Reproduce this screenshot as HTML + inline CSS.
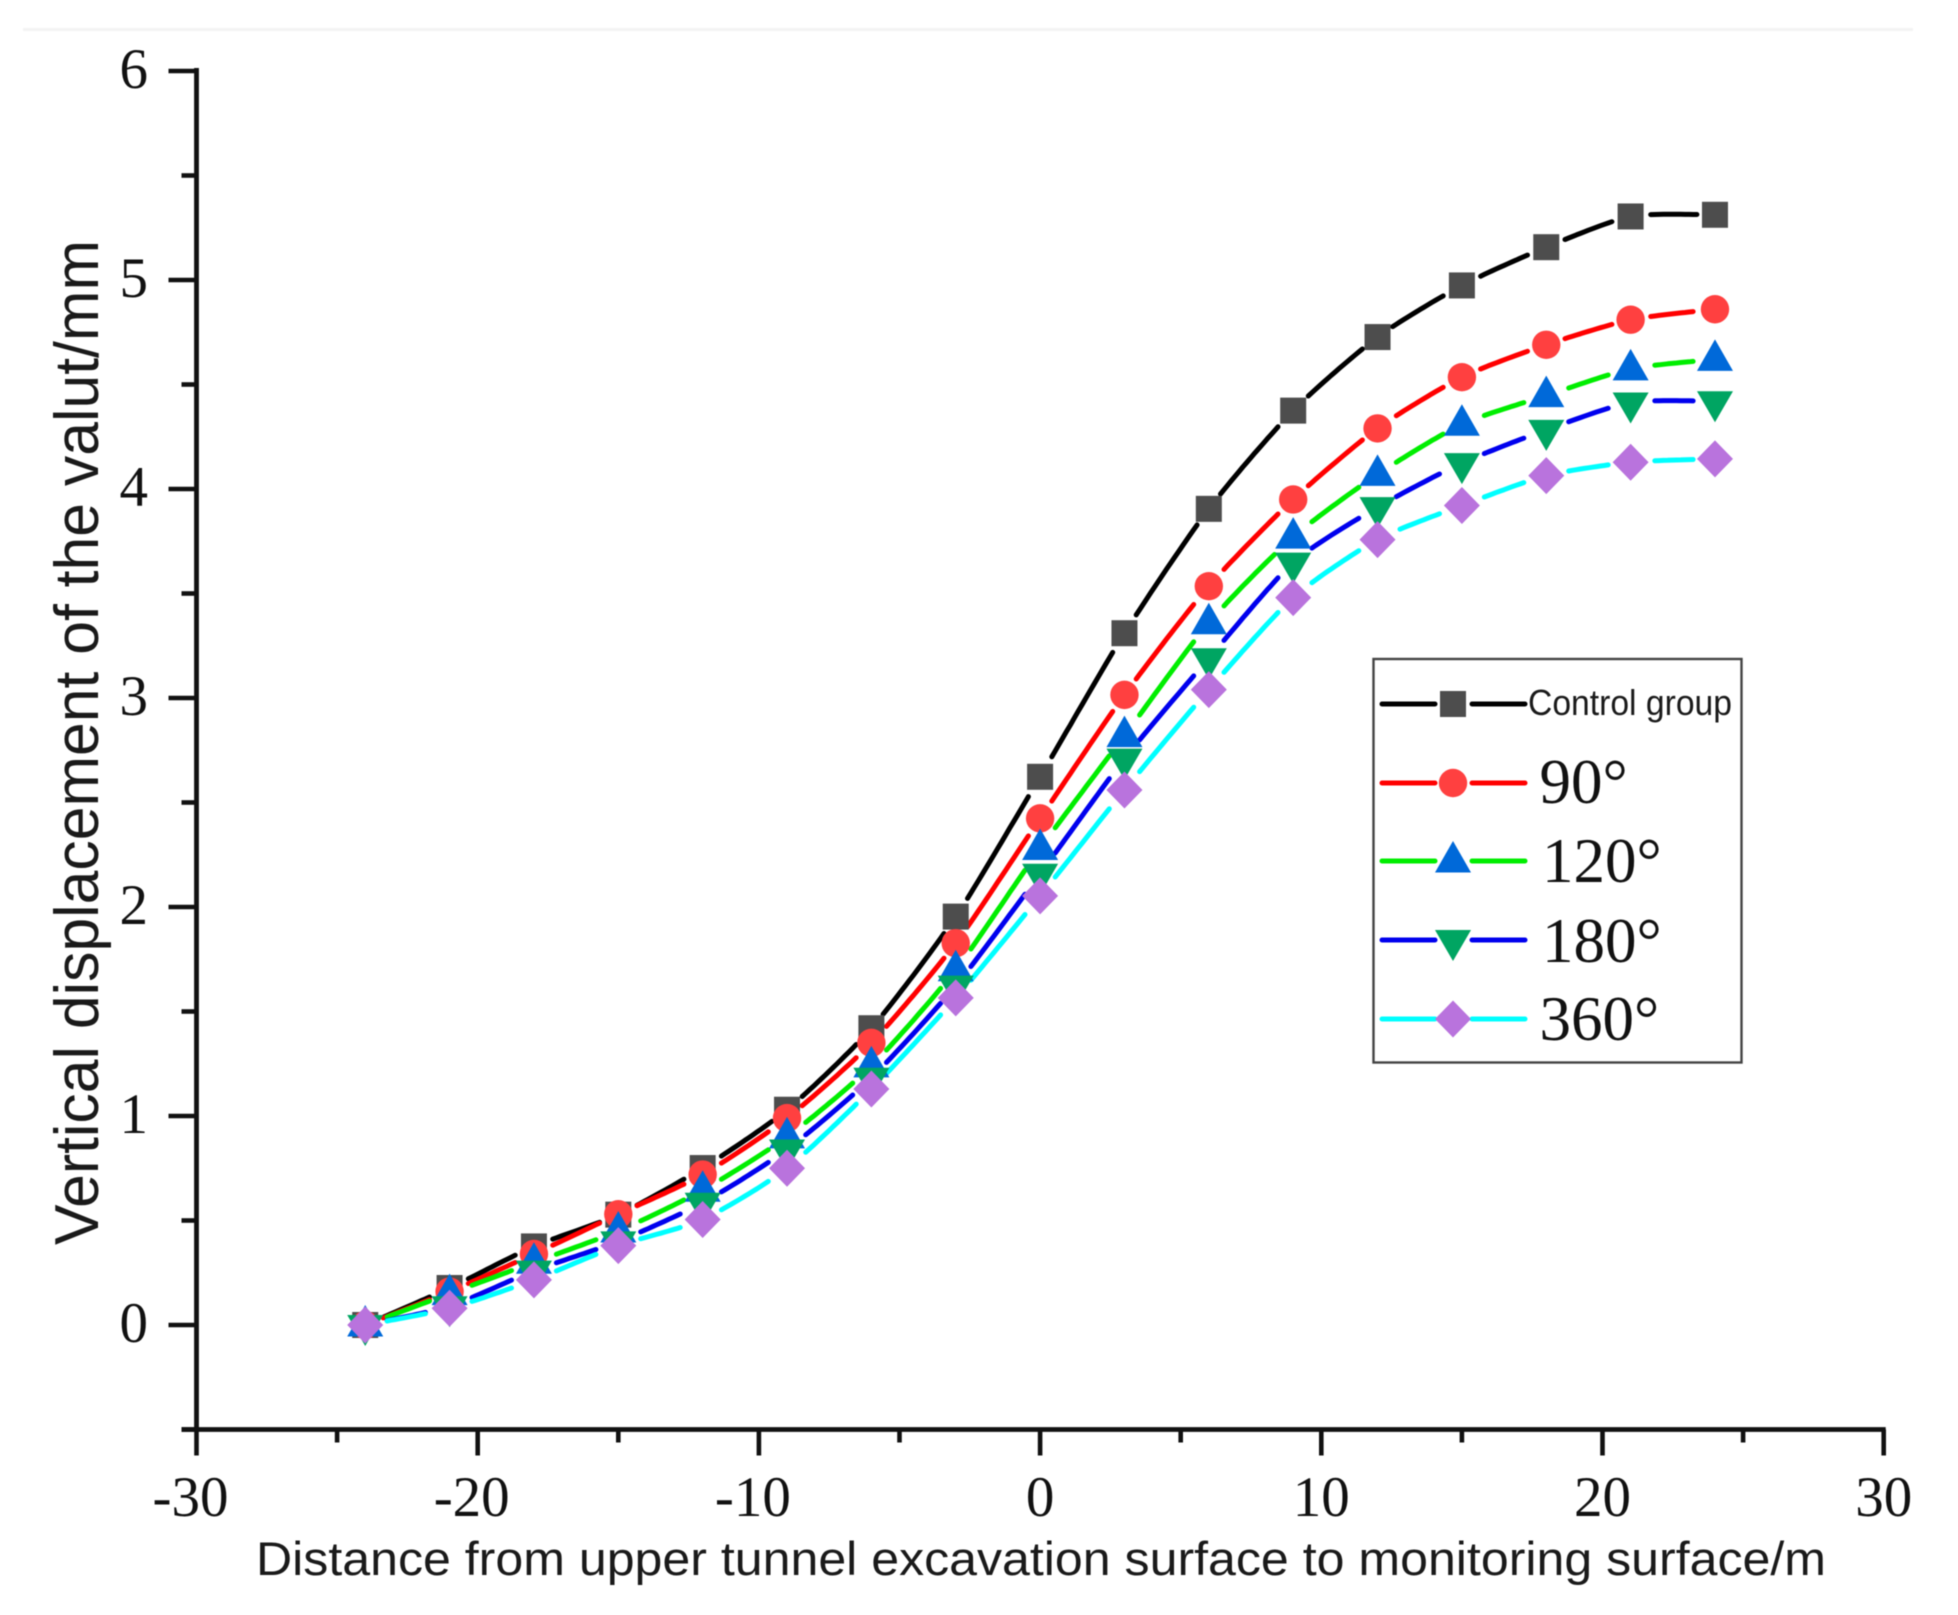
<!DOCTYPE html>
<html lang="en">
<head>
<meta charset="utf-8">
<title>Vertical displacement of the vault</title>
<style>
  html, body { margin: 0; padding: 0; background: #fff; }
  svg { display: block; filter: blur(0.5px); }
  .serif { font-family: "Liberation Serif", serif; fill: #111; }
  .sans { font-family: "Liberation Sans", sans-serif; fill: #1a1a1a; }
</style>
</head>
<body>
<svg id="chart" xmlns="http://www.w3.org/2000/svg" width="1958" height="1615" viewBox="0 0 1958 1615">
  <rect x="0" y="0" width="1958" height="1615" fill="#fff"/>
  <rect x="23" y="28" width="1890" height="3" fill="#f3f3f3"/>
  <g id="marks"></g>
  <g id="axes"></g>
  <text class="sans" font-size="62" text-anchor="start" textLength="1005" lengthAdjust="spacingAndGlyphs" transform="translate(98,1245) rotate(-90)">Vertical displacement of the valut/mm</text>
  <text class="sans" font-size="47" x="256" y="1575" textLength="1570" lengthAdjust="spacingAndGlyphs">Distance from upper tunnel excavation surface to monitoring surface/m</text>
  <g id="legend">
    <rect x="1373.5" y="659" width="368" height="403.5" fill="#fff" stroke="#444" stroke-width="2.4"/>
  </g>
</svg>
<script>
const xValues = [-24, -21, -18, -15, -12, -9, -6, -3, 0, 3, 6, 9, 12, 15, 18, 21, 24];
const controlGroup = [0, 0.177, 0.376, 0.528, 0.751, 1.03, 1.42, 1.954, 2.623, 3.31, 3.905, 4.375, 4.727, 4.974, 5.157, 5.304, 5.312];
const deg90 = [0, 0.16, 0.34, 0.53, 0.72, 0.99, 1.35, 1.827, 2.424, 3.015, 3.535, 3.95, 4.29, 4.535, 4.69, 4.81, 4.86];
const deg120 = [0, 0.15, 0.30, 0.45, 0.645, 0.90, 1.24, 1.70, 2.28, 2.82, 3.36, 3.77, 4.07, 4.31, 4.447, 4.575, 4.62];
const deg180 = [0, 0.09, 0.26, 0.40, 0.585, 0.84, 1.183, 1.624, 2.159, 2.71, 3.19, 3.648, 3.913, 4.124, 4.283, 4.414, 4.42];
const deg360 = [0, 0.08, 0.216, 0.38, 0.505, 0.75, 1.129, 1.565, 2.053, 2.56, 3.04, 3.48, 3.758, 3.921, 4.064, 4.128, 4.144];
const xTickValues = [-30, -25, -20, -15, -10, -5, 0, 5, 10, 15, 20, 25, 30];
const xTickLabels = ["-30", "", "-20", "", "-10", "", "0", "", "10", "", "20", "", "30"];
const yTickValues = [-0.5, 0, 0.5, 1, 1.5, 2, 2.5, 3, 3.5, 4, 4.5, 5, 5.5, 6];
const yTickLabels = ["", "0", "", "1", "", "2", "", "3", "", "4", "", "5", "", "6"];
const seriesNames = ["Control group", "90°", "120°", "180°", "360°"];
const seriesKeys = ["control", "90", "120", "180", "360"];
const seriesValues = [controlGroup, deg90, deg120, deg180, deg360];

const NS = "http://www.w3.org/2000/svg";
const lineColors = ["#000000", "#ff0000", "#00ee00", "#0000ee", "#00ffff"];
const markerColors = ["#4d4d4d", "#ff4040", "#0069d9", "#00a562", "#b973dd"];
const markerGaps = [18, 19, 21, 21, 21];
const TANGENT_SCALE = 0.7;

function xScale(v) { return 196.5 + (v + 30) * 28.12; }
function yScale(v) { return 1325 - v * 209; }

function el(tag, parent, attrs) {
  const node = document.createElementNS(NS, tag);
  for (const k in attrs) node.setAttribute(k, attrs[k]);
  parent.appendChild(node);
  return node;
}

function drawMarker(parent, index, cx, cy) {
  const fill = markerColors[index];
  let node;
  if (index === 0) {
    node = el("rect", parent, { x: cx - 13, y: cy - 13, width: 26, height: 26, fill: fill });
  } else if (index === 1) {
    node = el("circle", parent, { cx: cx, cy: cy, r: 14.2, fill: fill });
  } else if (index === 2) {
    node = el("polygon", parent, { points: `${cx},${cy - 20} ${cx + 18},${cy + 11.5} ${cx - 18},${cy + 11.5}`, fill: fill });
  } else if (index === 3) {
    node = el("polygon", parent, { points: `${cx - 18},${cy - 10} ${cx + 18},${cy - 10} ${cx},${cy + 21}`, fill: fill });
  } else {
    node = el("polygon", parent, { points: `${cx},${cy - 18.5} ${cx + 18},${cy} ${cx},${cy + 18.5} ${cx - 18},${cy}`, fill: fill });
  }
  return node;
}

/* Hermite spline segment between points i and i+1, trimmed back from each marker. */
function segmentPath(pts, i, gap) {
  const p0 = pts[Math.max(i - 1, 0)], p1 = pts[i], p2 = pts[i + 1], p3 = pts[Math.min(i + 2, pts.length - 1)];
  const m1x = TANGENT_SCALE * (p2[0] - p0[0]) / 2, m1y = TANGENT_SCALE * (p2[1] - p0[1]) / 2;
  const m2x = TANGENT_SCALE * (p3[0] - p1[0]) / 2, m2y = TANGENT_SCALE * (p3[1] - p1[1]) / 2;
  const kept = [];
  for (let s = 0; s <= 24; s++) {
    const t = s / 24, t2 = t * t, t3 = t2 * t;
    const h00 = 2 * t3 - 3 * t2 + 1, h10 = t3 - 2 * t2 + t, h01 = -2 * t3 + 3 * t2, h11 = t3 - t2;
    const x = h00 * p1[0] + h10 * m1x + h01 * p2[0] + h11 * m2x;
    const y = h00 * p1[1] + h10 * m1y + h01 * p2[1] + h11 * m2y;
    if (Math.hypot(x - p1[0], y - p1[1]) >= gap && Math.hypot(x - p2[0], y - p2[1]) >= gap) kept.push(x.toFixed(1) + "," + y.toFixed(1));
  }
  return kept.length > 1 ? "M" + kept.join("L") : "";
}

const marks = document.getElementById("marks");
const lineLayer = el("g", marks, {});


const markerLayer = el("g", marks, {});



seriesValues.forEach(function (values, si) {
  const pts = values.map(function (v, i) { return [xScale(xValues[i]), yScale(v)]; });
  let d = "";
  for (let i = 0; i < pts.length - 1; i++) d += segmentPath(pts, i, markerGaps[si]);
  const line = el("path", lineLayer, { d: d, fill: "none", stroke: lineColors[si], "stroke-width": 5, "stroke-linecap": "round", "stroke-linejoin": "round" });
  
  
});

seriesValues.forEach(function (values, si) {
  values.forEach(function (v, i) {
    const m = drawMarker(markerLayer, si, xScale(xValues[i]), yScale(v));
    
    
  });
});

/* Axes */
const axes = document.getElementById("axes");
const yLine = el("line", axes, { x1: xScale(-30), x2: xScale(-30), y1: yScale(6) - 3, y2: yScale(-0.5) + 2, stroke: "#111", "stroke-width": 4.8 });


const xLine = el("line", axes, { x1: xScale(-30) - 15, x2: xScale(30) + 2, y1: yScale(-0.5), y2: yScale(-0.5), stroke: "#111", "stroke-width": 4.8 });



yTickValues.forEach(function (v, i) {
  const major = yTickLabels[i] !== "";
  const y = yScale(v);
  const tick = el("line", axes, { x1: xScale(-30) - (major ? 28 : 15), x2: xScale(-30), y1: y, y2: y, stroke: "#111", "stroke-width": 4.6 });
  
  
  if (major) {
    const label = el("text", axes, { x: 148, y: y + 17, "text-anchor": "end", "font-size": 57, class: "serif" });
    label.textContent = yTickLabels[i];
    
    
  }
});

xTickValues.forEach(function (v, i) {
  const major = xTickLabels[i] !== "";
  const x = xScale(v);
  const tick = el("line", axes, { x1: x, x2: x, y1: yScale(-0.5), y2: yScale(-0.5) + (major ? 26 : 13), stroke: "#111", "stroke-width": 4.6 });
  
  
  if (major) {
    const label = el("text", axes, { x: x - (v < 0 ? 6 : 0), y: 1516, "text-anchor": "middle", "font-size": 57, class: "serif" });
    label.textContent = xTickLabels[i];
    
    
  }
});

/* Legend */
const legend = document.getElementById("legend");
const legendRows = [704, 783, 861, 940, 1019];
const legendTextX = [1528, 1539.5, 1542, 1542, 1539.5];
const legendBaseline = [715, 803, 882, 962, 1040];

seriesNames.forEach(function (name, si) {
  const row = legendRows[si];
  const entry = el("g", legend, {});
  
  
  const left = el("line", entry, { x1: 1382, x2: 1435, y1: row, y2: row, stroke: lineColors[si], "stroke-width": 5, "stroke-linecap": "round" });
  
  
  const right = el("line", entry, { x1: 1472, x2: 1525, y1: row, y2: row, stroke: lineColors[si], "stroke-width": 5, "stroke-linecap": "round" });
  
  
  const mk = drawMarker(entry, si, 1453, row);
  
  
  const attrs = si === 0
    ? { x: legendTextX[si], y: legendBaseline[si], "font-size": 36, class: "sans", textLength: 204, lengthAdjust: "spacingAndGlyphs" }
    : { x: legendTextX[si], y: legendBaseline[si], "font-size": 63, class: "serif" };
  const label = el("text", entry, attrs);
  label.textContent = name;
  
  
});
</script>
</body>
</html>
